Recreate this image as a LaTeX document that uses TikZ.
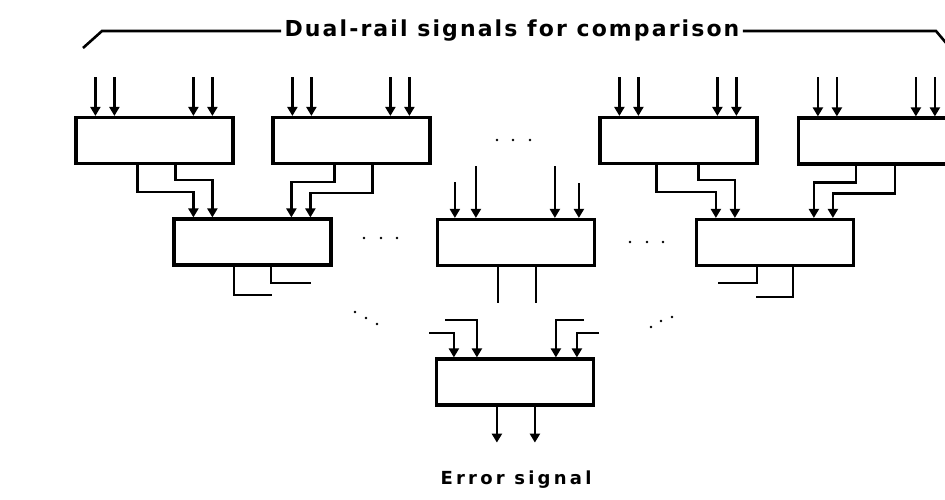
\documentclass[tikz,border=0pt]{standalone}
\usepackage{fontspec}
\newfontfamily\labelfont{DejaVu Sans}
\newfontfamily\titlefont[LetterSpace=9.5]{DejaVu Sans}
\newfontfamily\errfont[LetterSpace=18]{DejaVu Sans}
\usetikzlibrary{arrows.meta}

\tikzset{
    cell/.style={draw, line width=3.2pt, minimum width=157pt, minimum height=46pt, inner sep=0pt},
    feed/.style={line width=2.8pt, arrows={Triangle[width=10pt,length=9pt]-}},
    link/.style={line width=2.6pt, arrows={-Triangle[width=10pt,length=9pt]}},
    wire/.style={line width=2.6pt},
    stub/.style={line width=2pt},
}

\begin{document}
\begin{tikzpicture}[x=1pt, y=-1pt]
    \useasboundingbox (0,0) rectangle (945,499);

    % 1. Titolo con la parentesi sopra i segnali
    \node[font=\titlefont\bfseries\fontsize{22}{26}\selectfont] (title) at (512,31) {Dual-rail signals for comparison};
    \draw[wire] (83,48) -- (102,31) -- (title.west);
    \draw[wire] (title.east) -- (936,31) -- (952,50);

    % 2. Prima fila di checker (ingressi dual-rail)
    \node[cell] (A) at (154.5,140.5) {};
    \node[cell] (B) at (351.5,140.5) {};
    \node[cell] (D) at (678.5,140.5) {};
    \node[cell] (E) at (877,141) {};
    \foreach \b in {A,B,D,E}
        \foreach \x in {21,40,119,138}
            \draw[feed] ([xshift=\x]\b.north west) -- ++(0,-39);

    % 3. Seconda fila di checker
    \node[cell] (C) at (252.5,242) {};
    \node[cell] (M) at (516,242.5) {};
    \node[cell] (F) at (775,242.5) {};

    % collegamenti A,B -> C
    \draw[link] ([xshift=63]A.south west) -- ++(0,27) -| ([xshift=21]C.north west);
    \draw[link] ([xshift=101]A.south west) -- ++(0,15) -| ([xshift=40]C.north west);
    \draw[link] ([xshift=63]B.south west) -- ++(0,17) -| ([xshift=119]C.north west);
    \draw[link] ([xshift=101]B.south west) -- ++(0,28) -| ([xshift=138]C.north west);

    % collegamenti D,E -> F
    \draw[link] ([xshift=58]D.south west) -- ++(0,27) -| ([xshift=21]F.north west);
    \draw[link] ([xshift=100]D.south west) -- ++(0,15) -| ([xshift=40]F.north west);
    \draw[link] ([xshift=59]E.south west) -- ++(0,17) -| ([xshift=119]F.north west);
    \draw[link] ([xshift=98]E.south west) -- ++(0,28) -| ([xshift=138]F.north west);

    % ingressi e uscite del checker centrale
    \draw[feed] ([xshift=19]M.north west) -- ++(0,-36);
    \draw[feed] ([xshift=40]M.north west) -- ++(0,-52);
    \draw[feed] ([xshift=119]M.north west) -- ++(0,-52);
    \draw[feed] ([xshift=143]M.north west) -- ++(0,-35);
    \draw[wire] ([xshift=62]M.south west) -- ++(0,36);
    \draw[wire] ([xshift=100]M.south west) -- ++(0,36);

    % uscite di C e F
    \draw[stub] ([xshift=62]C.south west) |- ++(38,28);
    \draw[stub] ([xshift=99]C.south west) |- ++(40,16);
    \draw[stub] ([xshift=62]F.south west) |- ++(-39,16);
    \draw[stub] ([xshift=98]F.south west) |- ++(-37,30);

    % 4. Checker finale
    \node[cell] (G) at (515,382) {};
    \coordinate (g1) at (429,333);
    \coordinate (g2) at (445,320);
    \coordinate (g3) at (584,320);
    \coordinate (g4) at (599,333);
    \draw[link] (g1) -| ([xshift=19]G.north west);
    \draw[link] (g2) -| ([xshift=42]G.north west);
    \draw[link] (g3) -| ([xshift=121]G.north west);
    \draw[link] (g4) -| ([xshift=142]G.north west);
    \draw[link] ([xshift=62]G.south west) -- ++(0,36);
    \draw[link] ([xshift=100]G.south west) -- ++(0,36);
    \node[font=\errfont\bfseries\fontsize{18}{21}\selectfont] (err) at (516,480) {Error signal};

    % 5. Puntini
    \foreach \px/\py in {364/238, 381/238, 397/238, 497/140, 513/140, 530/140,
                         630/242, 647/242, 663/242, 355/312, 366/318, 377/324,
                         651/327, 661/321, 672/317}
        \fill (\px,\py) circle (1.4pt);

\end{tikzpicture}
\end{document}
